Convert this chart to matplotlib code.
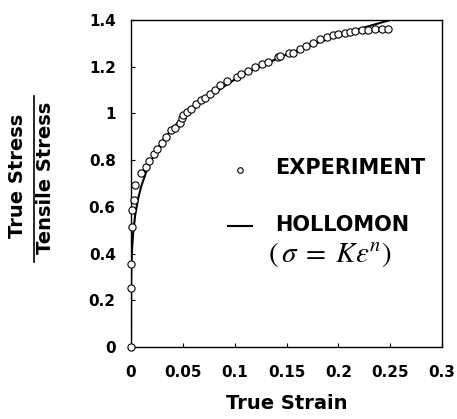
import matplotlib
matplotlib.use("Agg")
import matplotlib.pyplot as plt
from matplotlib.lines import Line2D

# experiment points (true strain, true stress / tensile stress)
exp_strain = [0, 0.0003, 0.0004, 0.0007, 0.001, 0.003, 0.004, 0.010, 0.0145, 0.0177,
              0.0222, 0.0254, 0.0296, 0.0335, 0.039, 0.0424, 0.047, 0.049, 0.050, 0.054,
              0.058, 0.063, 0.068, 0.071, 0.076, 0.081, 0.086, 0.093, 0.102, 0.106,
              0.113, 0.120, 0.126, 0.132, 0.142, 0.144, 0.152, 0.156, 0.163, 0.169,
              0.176, 0.182, 0.189, 0.195, 0.200, 0.206, 0.211, 0.216, 0.223, 0.229,
              0.235, 0.242, 0.248]
exp_stress = [0, 0.253, 0.355, 0.514, 0.587, 0.63, 0.694, 0.745, 0.772, 0.795,
              0.826, 0.848, 0.873, 0.900, 0.929, 0.936, 0.957, 0.979, 0.993, 1.007,
              1.021, 1.040, 1.057, 1.067, 1.083, 1.100, 1.122, 1.140, 1.154, 1.169,
              1.183, 1.200, 1.212, 1.221, 1.240, 1.246, 1.260, 1.260, 1.274, 1.289,
              1.303, 1.317, 1.328, 1.335, 1.340, 1.345, 1.350, 1.353, 1.357, 1.357,
              1.360, 1.362, 1.362]

# Hollomon fit curve
hol_strain = [0, 0.0002, 0.0005, 0.001, 0.002, 0.004, 0.007, 0.01, 0.015, 0.02,
              0.03, 0.04, 0.05, 0.07, 0.1, 0.125, 0.15, 0.175, 0.2, 0.225, 0.25, 0.26]
hol_stress = [0, 0.292, 0.357, 0.416, 0.484, 0.564, 0.638, 0.690, 0.754, 0.803,
              0.879, 0.936, 0.983, 1.058, 1.145, 1.203, 1.252, 1.295, 1.333, 1.368,
              1.400, 1.413]

x_ticks = [0, 0.05, 0.1, 0.15, 0.2, 0.25, 0.3]
x_labels = ["0", "0.05", "0.1", "0.15", "0.2", "0.25", "0.3"]
y_ticks = [0, 0.2, 0.4, 0.6, 0.8, 1.0, 1.2, 1.4]
y_labels = ["0", "0.2", "0.4", "0.6", "0.8", "1", "1.2", "1.4"]

plt.rcParams['font.family'] = ['DejaVu Sans']

W, H = 457, 419
fig = plt.figure(figsize=(W / 100, H / 100), dpi=100)
ax = fig.add_axes([131 / W, 1 - 347 / H, (442 - 131) / W, (347 - 20) / H])

ax.plot(hol_strain, hol_stress, color='black', lw=1.5)
ax.plot(exp_strain, exp_stress, linestyle='none', marker='o', ms=5.2,
        mfc='white', mec='black', mew=0.8, clip_on=False, zorder=3)

ax.set_xlim(0, 0.3)
ax.set_ylim(0, 1.4)
ax.set_xticks(x_ticks)
ax.set_xticklabels(x_labels, fontweight='bold')
ax.set_yticks(y_ticks)
ax.set_yticklabels(y_labels, fontweight='bold')
ax.tick_params(direction='in', length=3, width=0.8, labelsize=11)
ax.tick_params(axis='x', pad=13)
ax.tick_params(axis='y', pad=11)
for s in ax.spines.values():
    s.set_linewidth(1.0)

ax.set_xlabel("True Strain", fontsize=14, fontweight='bold', labelpad=10)

# y label drawn as a fraction
fig.text(18 / W, 1 - 176 / H, "True Stress", rotation=90, fontsize=14,
         fontweight='bold', ha='center', va='center')
fig.text(46 / W, 1 - 178 / H, "Tensile Stress", rotation=90, fontsize=14,
         fontweight='bold', ha='center', va='center')
fig.add_artist(Line2D([34 / W, 34 / W], [1 - 96 / H, 1 - 262 / H],
                      color='black', lw=1.2, transform=fig.transFigure))

# legend by hand
fig.add_artist(Line2D([240 / W], [1 - 170 / H], marker='o', ms=4.0, mfc='white',
                      mec='black', mew=0.8, linestyle='none',
                      transform=fig.transFigure))
fig.add_artist(Line2D([228 / W, 252 / W], [1 - 226 / H, 1 - 226 / H],
                      color='black', lw=1.5, transform=fig.transFigure))
fig.text(275 / W, 1 - 168 / H, "EXPERIMENT", fontsize=15, fontweight='bold',
         ha='left', va='center')
fig.text(275 / W, 1 - 225 / H, "HOLLOMON", fontsize=15, fontweight='bold',
         ha='left', va='center')
fig.text(268 / W, 1 - 254 / H, r"$(\,\sigma\;=\;K\varepsilon^{n})$", fontsize=21,
         math_fontfamily='stix', ha='left', va='center')

fig.savefig("out.png", dpi=100)
